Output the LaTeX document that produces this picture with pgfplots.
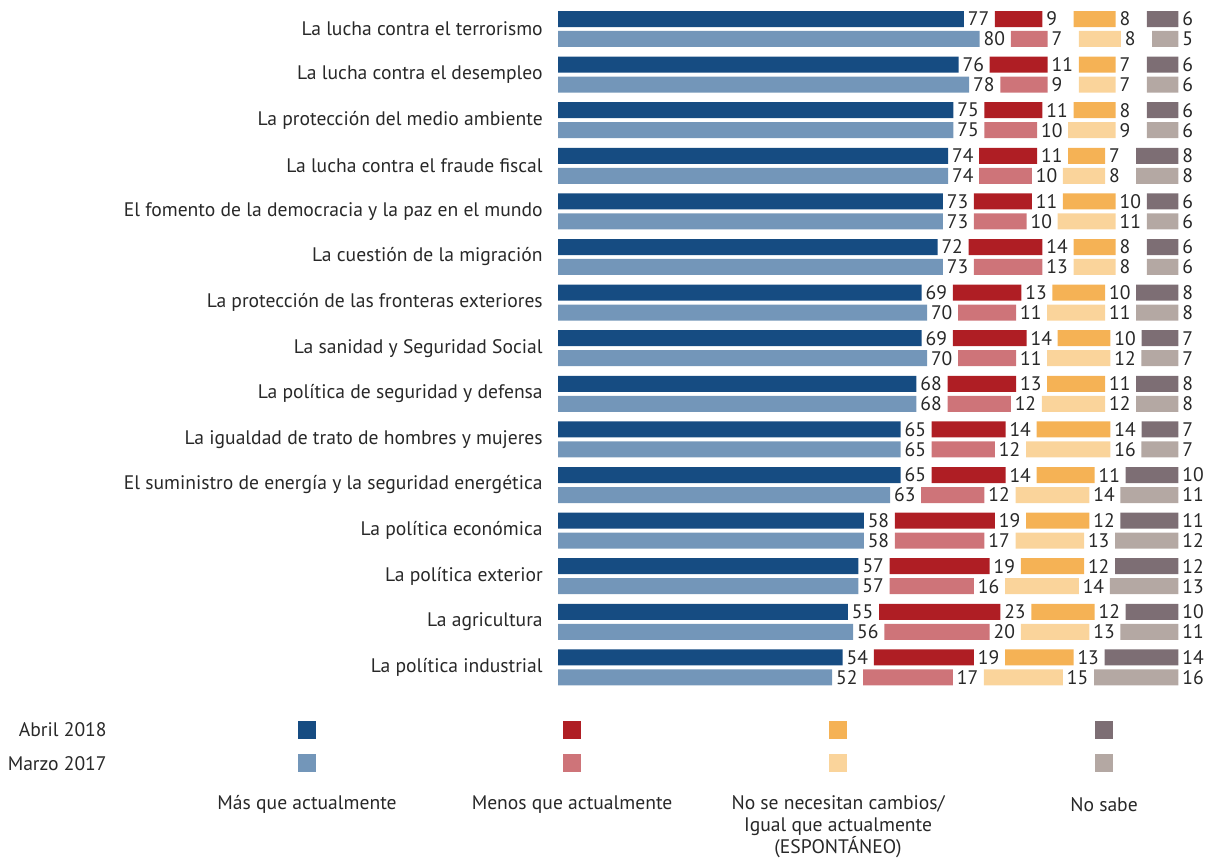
\documentclass[border=0pt]{standalone}
\usepackage{fontspec}
\setmainfont{PT Sans}
\usepackage{pgfplots}
\pgfplotsset{compat=1.18}
\usepackage{pgfplotstable}

\definecolor{mas18}{RGB}{22,76,130}
\definecolor{mas17}{RGB}{115,150,185}
\definecolor{men18}{RGB}{175,30,36}
\definecolor{men17}{RGB}{206,116,121}
\definecolor{igu18}{RGB}{245,178,85}
\definecolor{igu17}{RGB}{250,212,155}
\definecolor{nsa18}{RGB}{125,110,116}
\definecolor{nsa17}{RGB}{180,168,163}
\definecolor{txt}{RGB}{40,40,40}

\newcommand{\lab}{\fontsize{9.8}{11}\selectfont}

% i = fila (0 arriba); 18 = abril 2018, 17 = marzo 2017
\pgfplotstableread{
i  m18 n18 g18 s18 m17 n17 g17 s17
0  77  9   8   6   80  7   8   5
1  76  11  7   6   78  9   7   6
2  75  11  8   6   75  10  9   6
3  74  11  7   8   74  10  8   8
4  73  11  10  6   73  10  11  6
5  72  14  8   6   73  13  8   6
6  69  13  10  8   70  11  11  8
7  69  14  10  7   70  11  12  7
8  68  13  11  8   68  12  12  8
9  65  14  14  7   65  12  16  7
10 65  14  11  10  63  12  14  11
11 58  19  12  11  58  17  13  12
12 57  19  12  12  57  16  14  13
13 55  23  12  10  56  20  13  11
14 54  19  13  14  52  17  15  16
}\datos

% each coloured segment is followed by an empty gap that carries its value
\pgfplotsset{
  base/.style={
    x=2.635pt, y=22.8pt,
    xmin=0, xmax=118, ymin=-14.6, ymax=0.6,
    xbar stacked, bar width=8pt,
    clip=false,
  },
  seg/.style={fill=#1, draw=none},
  gap/.style={fill=none, draw=none,
    point meta=explicit symbolic,
    nodes near coords={\pgfplotspointmeta},
    every node near coord/.append style={font=\lab, text=txt,
      anchor=west, inner sep=1.8pt, xshift=-7.77pt}},
}

\begin{document}
\begin{tikzpicture}
% abril 2018 + etiquetas de categorias
\begin{axis}[base,
    axis line style={draw=none}, major tick length=0pt,
    xtick=\empty,
    ytick={0,-1,-2,-3,-4,-5,-6,-7,-8,-9,-10,-11,-12,-13,-14},
    yticklabels={La lucha contra el terrorismo,
      La lucha contra el desempleo,
      La protección del medio ambiente,
      La lucha contra el fraude fiscal,
      El fomento de la democracia y la paz en el mundo,
      La cuestión de la migración,
      La protección de las fronteras exteriores,
      La sanidad y Seguridad Social,
      La política de seguridad y defensa,
      La igualdad de trato de hombres y mujeres,
      El suministro de energía y la seguridad energética,
      La política económica,
      La política exterior,
      La agricultura,
      La política industrial},
    yticklabel style={font=\lab, text=txt, inner sep=0pt, xshift=-7.5pt},
]
  \addplot[seg=mas18] table[x=m18, y expr=-\thisrow{i}+0.219] {\datos};
  \addplot[gap] table[x expr=5.9, y expr=-\thisrow{i}+0.219, meta=m18] {\datos};
  \addplot[seg=men18] table[x=n18, y expr=-\thisrow{i}+0.219] {\datos};
  \addplot[gap] table[x expr=5.9, y expr=-\thisrow{i}+0.219, meta=n18] {\datos};
  \addplot[seg=igu18] table[x=g18, y expr=-\thisrow{i}+0.219] {\datos};
  \addplot[gap] table[x expr=5.9, y expr=-\thisrow{i}+0.219, meta=g18] {\datos};
  \addplot[seg=nsa18] table[x=s18, y expr=-\thisrow{i}+0.219] {\datos};
  \addplot[gap] table[x expr=5.9, y expr=-\thisrow{i}+0.219, meta=s18] {\datos};
\end{axis}

% marzo 2017 + leyenda
\begin{axis}[base, hide axis]
  \addplot[seg=mas17] table[x=m17, y expr=-\thisrow{i}-0.219] {\datos};
  \addplot[gap] table[x expr=5.9, y expr=-\thisrow{i}-0.219, meta=m17] {\datos};
  \addplot[seg=men17] table[x=n17, y expr=-\thisrow{i}-0.219] {\datos};
  \addplot[gap] table[x expr=5.9, y expr=-\thisrow{i}-0.219, meta=n17] {\datos};
  \addplot[seg=igu17] table[x=g17, y expr=-\thisrow{i}-0.219] {\datos};
  \addplot[gap] table[x expr=5.9, y expr=-\thisrow{i}-0.219, meta=g17] {\datos};
  \addplot[seg=nsa17] table[x=s17, y expr=-\thisrow{i}-0.219] {\datos};
  \addplot[gap] table[x expr=5.9, y expr=-\thisrow{i}-0.219, meta=s17] {\datos};

  % marco de la imagen
  \path (axis cs:-105.9,0.636) rectangle (axis cs:123.7,-18.2);

  % leyenda
  \node[anchor=east, font=\lab, text=txt, inner sep=0pt] at (axis cs:-85.6,-15.37) {Abril 2018};
  \node[anchor=east, font=\lab, text=txt, inner sep=0pt] at (axis cs:-85.6,-16.10) {Marzo 2017};
  \fill[mas18] (axis cs:-47.63,-15.37) ++(-4.5pt,-4.5pt) rectangle ++(9pt,9pt);
  \fill[mas17] (axis cs:-47.63,-16.10) ++(-4.5pt,-4.5pt) rectangle ++(9pt,9pt);
  \fill[men18] (axis cs:2.66,-15.37) ++(-4.5pt,-4.5pt) rectangle ++(9pt,9pt);
  \fill[men17] (axis cs:2.66,-16.10) ++(-4.5pt,-4.5pt) rectangle ++(9pt,9pt);
  \fill[igu18] (axis cs:53.13,-15.37) ++(-4.5pt,-4.5pt) rectangle ++(9pt,9pt);
  \fill[igu17] (axis cs:53.13,-16.10) ++(-4.5pt,-4.5pt) rectangle ++(9pt,9pt);
  \fill[nsa18] (axis cs:103.6,-15.37) ++(-4.5pt,-4.5pt) rectangle ++(9pt,9pt);
  \fill[nsa17] (axis cs:103.6,-16.10) ++(-4.5pt,-4.5pt) rectangle ++(9pt,9pt);
  \node[font=\lab, text=txt, inner sep=0pt] at (axis cs:-47.63,-17.0) {Más que actualmente};
  \node[font=\lab, text=txt, inner sep=0pt] at (axis cs:2.66,-17.0) {Menos que actualmente};
  \node[font=\lab, text=txt, inner sep=0pt, align=center, anchor=north] at (axis cs:53.13,-16.80)
    {No se necesitan cambios/\\Igual que actualmente\\(ESPONTÁNEO)};
  \node[font=\lab, text=txt, inner sep=0pt] at (axis cs:103.6,-17.0) {No sabe};
\end{axis}
\end{tikzpicture}
\end{document}
